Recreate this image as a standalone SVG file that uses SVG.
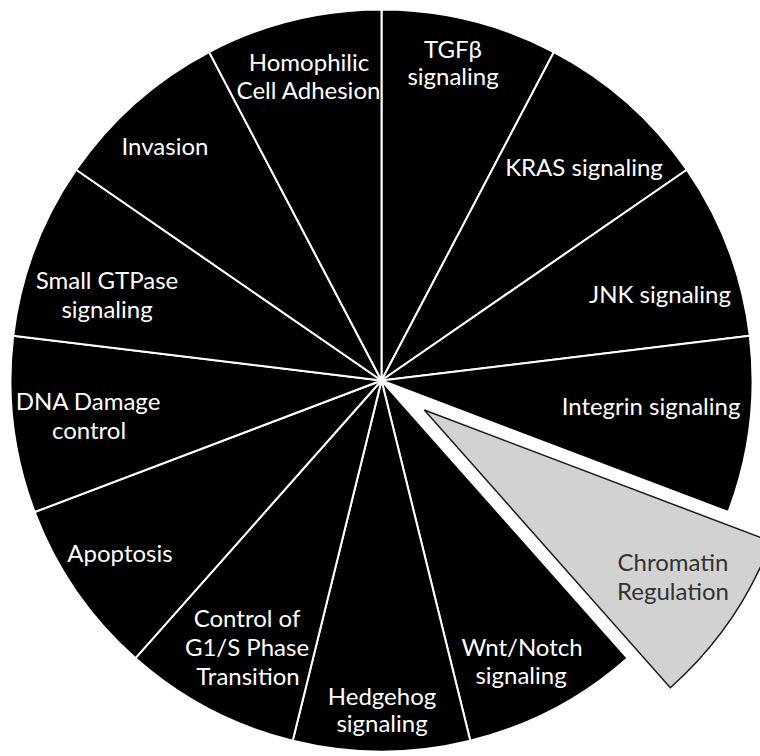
<svg xmlns="http://www.w3.org/2000/svg" width="760" height="756" viewBox="0 0 760 756">
<style>
.s{fill:#000;stroke:#fff;stroke-width:2;stroke-linejoin:round}
.g{fill:#d2d2d2;stroke:#1a1a1a;stroke-width:1.5;stroke-linejoin:miter}
text{font-family:Lato,"Liberation Sans",sans-serif;font-size:24px;text-anchor:middle;fill:#fff}
.d{fill:#333}
</style>
<rect width="760" height="756" fill="#fff"/>
<g id="tgf">
<path class="s" d="M381.5 380.5 L381.5 9.5 A371 371 0 0 1 553.91 51.99 Z"/>
<text x="453" y="58">TGFβ</text><text x="453" y="85">signaling</text>
</g>
<g id="kras">
<path class="s" d="M381.5 380.5 L553.91 51.99 A371 371 0 0 1 686.83 169.75 Z"/>
<text x="584" y="176">KRAS signaling</text>
</g>
<g id="jnk">
<path class="s" d="M381.5 380.5 L686.83 169.75 A371 371 0 0 1 749.8 335.78 Z"/>
<text x="660" y="303">JNK signaling</text>
</g>
<g id="integrin">
<path class="s" d="M381.5 380.5 L749.8 335.78 A371 371 0 0 1 728.39 512.06 Z"/>
<text x="651" y="415">Integrin signaling</text>
</g>
<g id="wnt">
<path class="s" d="M381.5 380.5 L627.52 658.2 A371 371 0 0 1 470.29 740.72 Z"/>
<text x="522" y="656">Wnt/Notch</text><text x="521" y="684">signaling</text>
</g>
<g id="hedgehog">
<path class="s" d="M381.5 380.5 L470.29 740.72 A371 371 0 0 1 292.71 740.72 Z"/>
<text x="382" y="705">Hedgehog</text><text x="382" y="732">signaling</text>
</g>
<g id="g1s">
<path class="s" d="M381.5 380.5 L292.71 740.72 A371 371 0 0 1 135.48 658.2 Z"/>
<text x="247" y="627">Control of</text><text x="247" y="656">G1/S Phase</text><text x="248" y="685">Transition</text>
</g>
<g id="apoptosis">
<path class="s" d="M381.5 380.5 L135.48 658.2 A371 371 0 0 1 34.61 512.06 Z"/>
<text x="120" y="562">Apoptosis</text>
</g>
<g id="dna">
<path class="s" d="M381.5 380.5 L34.61 512.06 A371 371 0 0 1 13.2 335.78 Z"/>
<text x="88" y="410">DNA Damage</text><text x="89" y="439">control</text>
</g>
<g id="gtpase">
<path class="s" d="M381.5 380.5 L13.2 335.78 A371 371 0 0 1 76.17 169.75 Z"/>
<text x="107" y="289">Small GTPase</text><text x="107" y="318">signaling</text>
</g>
<g id="invasion">
<path class="s" d="M381.5 380.5 L76.17 169.75 A371 371 0 0 1 209.09 51.99 Z"/>
<text x="165" y="155">Invasion</text>
</g>
<g id="homophilic">
<path class="s" d="M381.5 380.5 L209.09 51.99 A371 371 0 0 1 381.5 9.5 Z"/>
<text x="309" y="71">Homophilic</text><text x="308.5" y="99">Cell Adhesion</text>
</g>
<g id="chromatin">
<path class="g" d="M424.3 410 L771.19 541.56 A371 371 0 0 1 670.32 687.7 Z"/>
<text class="d" x="673" y="571">Chromatin</text><text class="d" x="673" y="600">Regulation</text>
</g>
<g id="connectors"/>
</svg>
